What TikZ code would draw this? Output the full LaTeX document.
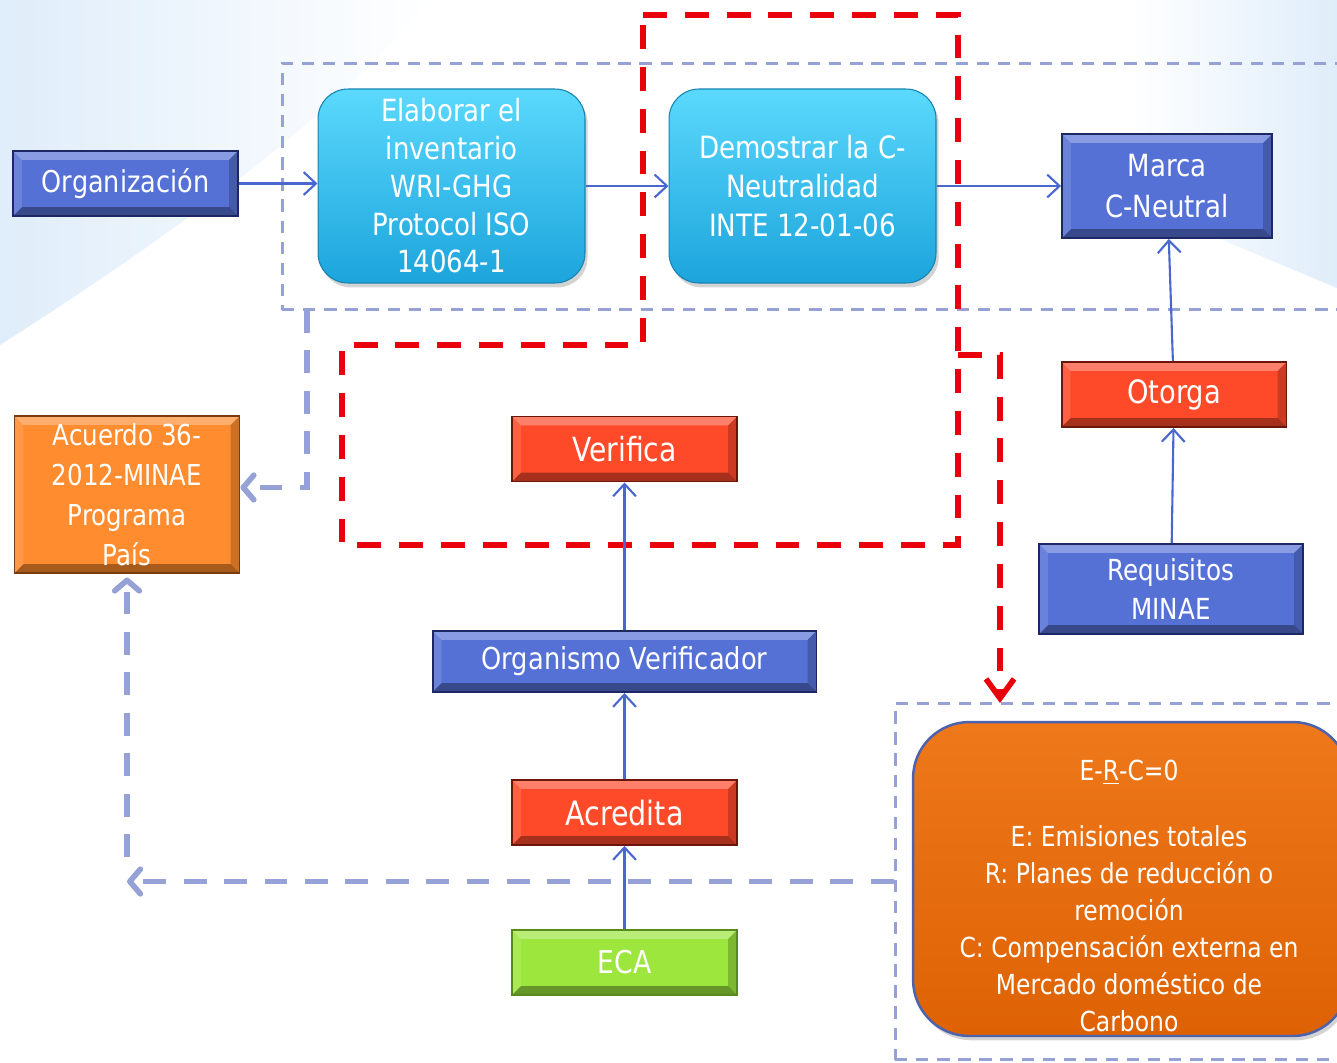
\documentclass[tikz,border=0pt]{standalone}
\usepackage{fontspec}
\setmainfont{DejaVu Sans}
\newfontfamily\boxfont[FakeStretch=0.85]{DejaVu Sans}
\usetikzlibrary{arrows.meta, positioning, calc, shadows}
\definecolor{bgblue}{HTML}{DFEDFA}
\definecolor{flowblue}{HTML}{4A66CF}
\definecolor{dashgray}{HTML}{96A1D6}
\definecolor{redline}{HTML}{E8000B}
\definecolor{blueface}{HTML}{5671D6}
\definecolor{blueedge}{HTML}{1C2763}
\definecolor{redface}{HTML}{FF4A2A}
\definecolor{rededge}{HTML}{6A1709}
\definecolor{orangeface}{HTML}{FF8C2E}
\definecolor{orangeedge}{HTML}{7A3C0C}
\definecolor{greenface}{HTML}{9DE63E}
\definecolor{greenedge}{HTML}{5A8A1A}
\definecolor{cyantop}{HTML}{5BD9FD}
\definecolor{cyanbot}{HTML}{1CA4DC}
\definecolor{erctop}{HTML}{EE781A}
\definecolor{ercbot}{HTML}{DE6204}
\definecolor{ercedge}{HTML}{4D62AC}
\newcommand{\fsz}[2]{\fontsize{#1}{#2}\selectfont\boxfont}

\tikzset{
  bevel/.style={path picture={
    \coordinate (bnw) at (path picture bounding box.north west);
    \coordinate (bne) at (path picture bounding box.north east);
    \coordinate (bsw) at (path picture bounding box.south west);
    \coordinate (bse) at (path picture bounding box.south east);
    \fill[white, opacity=.3] (bnw) -- (bne) -- ([shift={(-5pt,-5pt)}]bne) -- ([shift={(5pt,-5pt)}]bnw) -- cycle;
    \fill[black, opacity=.35] (bsw) -- (bse) -- ([shift={(-5pt,5pt)}]bse) -- ([shift={(5pt,5pt)}]bsw) -- cycle;
    \fill[white, opacity=.12] (bnw) -- (bsw) -- ([shift={(5pt,5pt)}]bsw) -- ([shift={(5pt,-5pt)}]bnw) -- cycle;
    \fill[black, opacity=.2] (bne) -- (bse) -- ([shift={(-5pt,5pt)}]bse) -- ([shift={(-5pt,-5pt)}]bne) -- cycle;
  }},
  plainbox/.style={draw=#1, line width=1.1pt, text=white, align=center, inner sep=0pt, bevel},
  bluebox/.style={plainbox=blueedge, fill=blueface},
  redbox/.style={plainbox=rededge, fill=redface, minimum width=4.5cm, minimum height=1.3cm},
  orangebox/.style={plainbox=orangeedge, fill=orangeface},
  greenbox/.style={plainbox=greenedge, fill=greenface, minimum width=4.5cm, minimum height=1.3cm},
  cyanbox/.style={rounded corners=17pt, top color=cyantop, bottom color=cyanbot,
    draw=cyanbot!80!black, line width=.6pt, text=white, align=center, inner sep=0pt,
    minimum width=5.34cm, minimum height=3.88cm,
    drop shadow={opacity=.35, shadow xshift=1.5pt, shadow yshift=-2.5pt}},
  ercbox/.style={rounded corners=32pt, top color=erctop, bottom color=ercbot,
    draw=ercedge, line width=1.4pt, minimum width=8.72cm, minimum height=6.28cm,
    drop shadow={opacity=.35, shadow xshift=1.5pt, shadow yshift=-2.5pt}},
  groupbox/.style={draw=dashgray, line width=1.7pt, dash pattern=on 7pt off 5pt},
  redzone/.style={draw=redline, line width=3.2pt, dash pattern=on 13.6pt off 10.2pt},
  flow/.style={draw=flowblue, line width=1.2pt, -{Straight Barb[length=7pt,width=13pt]}},
  grayflow/.style={draw=dashgray, line width=3.2pt, dash pattern=on 13pt off 10pt,
    -{Straight Barb[length=6pt,width=14pt,round]}},
  redflow/.style={redzone, -{Straight Barb[length=11pt,width=16pt]}},
}

\begin{document}
\begin{tikzpicture}[x=0.02cm, y=-0.02cm]
  \useasboundingbox (0,0) rectangle (1337,1062);
  \clip (0,0) rectangle (1337,1062);
  % background
  \shade[left color=bgblue, right color=white] (0,0) -- (430,0) .. controls (330,120) and (180,230) .. (0,345) -- cycle;
  \shade[left color=white, right color=bgblue] (1130,0) -- (1337,0) -- (1337,288) .. controls (1290,268) and (1230,244) .. (1130,200) -- cycle;

  % dashed groups
  \node[groupbox, minimum width=21.26cm, minimum height=4.94cm] (topgroup) at (813.5,186.5) {};
  \node[groupbox, minimum width=9cm, minimum height=7.14cm] (ercgroup) at (1120,881.5) {};

  % red zone
  \draw[redzone] (643,15) -- (958,15) -- (958,545) -- (342,545) -- (342,345) -- (643,345) -- cycle;

  % boxes
  \node[bluebox, minimum width=4.5cm, minimum height=1.3cm, font={\fsz{17.1}{21}}] (org) at (125.5,183.5) {Organización};
  \node[cyanbox, font={\fsz{17.4}{21.5}}] (inv) at (451.5,186) {Elaborar el\\inventario\\WRI-GHG\\Protocol ISO\\14064-1};
  \node[cyanbox, font={\fsz{17.5}{22.4}}] (demo) at (802.5,186) {Demostrar la C-\\Neutralidad\\INTE 12-01-06};
  \node[bluebox, minimum width=4.2cm, minimum height=2.08cm, font={\fsz{17.4}{23.2}}] (marca) at (1167,186) {Marca\\C-Neutral};
  \node[orangebox, minimum width=4.5cm, minimum height=3.14cm, font={\fsz{16.4}{22.7}}] (acuerdo) at (127,494.5) {Acuerdo 36-\\2012-MINAE\\Programa\\País};
  \node[redbox, font={\fsz{18.9}{22}}] (verifica) at (624.5,449) {Verifica};
  \node[bluebox, minimum width=7.68cm, minimum height=1.22cm, font={\fsz{17.2}{21}}] (orgver) at (624.5,661.5) {Organismo Verificador};
  \node[redbox, font={\fsz{19.1}{22}}] (acredita) at (624.5,812.5) {Acredita};
  \node[greenbox, font={\fsz{17.9}{22}}] (eca) at (624.5,962.5) {ECA};
  \node[redbox, font={\fsz{18.3}{22}}] (otorga) at (1174,394.5) {Otorga};
  \node[bluebox, minimum width=5.28cm, minimum height=1.8cm, font={\fsz{16.5}{22.7}}] (req) at (1171,589) {Requisitos\\MINAE};
  \node[ercbox] (erc) at (1131,879) {};
  \node[text=white, align=center, font={\fsz{15.7}{21}}] (ercnote) at (1129,896)
    {E-\underline{R}-C=0\\[16.5pt]E: Emisiones totales\\R: Planes de reducción o\\remoción\\C: Compensación externa en\\Mercado doméstico de\\Carbono};

  % connectors
  \draw[flow] (org.east) -- (org.east -| inv.west);
  \draw[flow] (inv) -- (demo);
  \draw[flow] (demo) -- (marca);
  \draw[flow] (otorga) -- (marca);
  \draw[flow] (req) -- (otorga);
  \draw[flow] (orgver) -- (verifica);
  \draw[flow] (acredita) -- (orgver);
  \draw[flow] (eca) -- (acredita);

  \coordinate (redtap) at (958,355);
  \coordinate (redend) at (1000,703);
  \draw[redflow] (redtap) -| (redend);

  \coordinate (acutap) at (307,310);
  \draw[grayflow] (acutap) |- ([yshift=4pt]acuerdo.east);
  \coordinate (ercbend) at (ercgroup.west -| acuerdo.south);
  \draw[grayflow] (ercgroup.west) -- (ercbend);
  \draw[grayflow, shorten >=2pt] ([yshift=14pt]ercbend) -- (acuerdo.south);
\end{tikzpicture}
\end{document}
